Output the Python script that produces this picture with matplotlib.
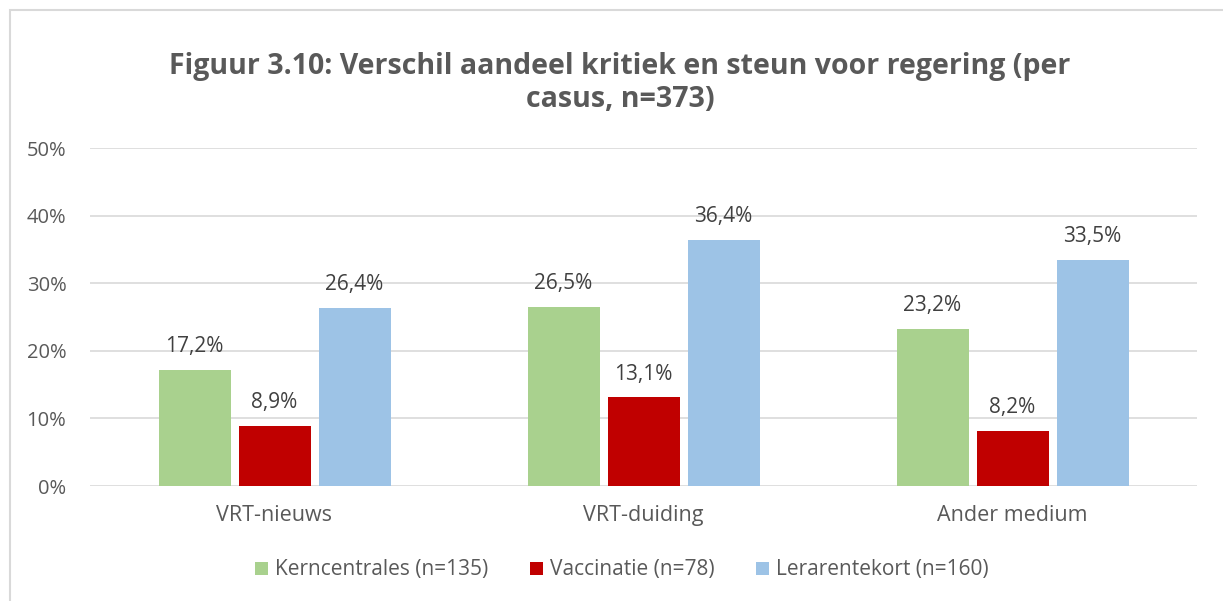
import matplotlib
matplotlib.use("Agg")
import matplotlib.pyplot as plt
import numpy as np
from matplotlib.patches import Rectangle

categories = ["VRT-nieuws", "VRT-duiding", "Ander medium"]
series_names = ["Kerncentrales (n=135)", "Vaccinatie (n=78)", "Lerarentekort (n=160)"]
kerncentrales = [17.2, 26.5, 23.2]
vaccinatie = [8.9, 13.1, 8.2]
lerarentekort = [26.4, 36.4, 33.5]
colors = ["#A9D18E", "#C00000", "#9DC3E6"]
title = "Figuur 3.10: Verschil aandeel kritiek en steun voor regering (per\ncasus, n=373)"

plt.rcParams['font.family'] = ['Open Sans', 'DejaVu Sans']

fig = plt.figure(figsize=(12.23, 6.01), dpi=100)
fig.patches.append(Rectangle((10/1223, -0.1), 1.2, 1 - 10/601 + 0.1, transform=fig.transFigure,
                             fill=False, edgecolor="#D9D9D9", linewidth=1.5))
ax = fig.add_axes([90/1223, 1 - 486/601, 1107/1223, 338/601])

x = np.arange(len(categories)) + 0.5
w = 72/369
off = 80/369
for i, (vals, name, c) in enumerate(zip([kerncentrales, vaccinatie, lerarentekort], series_names, colors)):
    bars = ax.bar(x + (i - 1) * off, vals, width=w, color=c, label=name, zorder=3)
    for b, v in zip(bars, vals):
        ax.text(b.get_x() + b.get_width()/2, v + 3.45, f"{v:.1f}%".replace(".", ","),
                ha="center", va="center", fontsize=15, color="#404040")

ax.set_xlim(0, 3)
ax.set_ylim(0, 50)
ax.set_yticks(np.arange(0, 51, 10))
ax.set_yticklabels([f"{v}%" for v in range(0, 51, 10)], fontsize=14.5, color="#595959")
ax.set_xticks(x)
ax.set_xticklabels(categories, fontsize=15.5, color="#595959")
ax.tick_params(length=0)
ax.tick_params(axis="x", pad=14)
ax.tick_params(axis="y", pad=17)
ax.grid(axis="y", color="#D9D9D9", linewidth=1.2, zorder=0)
for s in ax.spines.values():
    s.set_visible(False)

fig.text(620/1223, 1 - 83/601, title, ha="center", va="center", fontsize=20.5, fontweight="bold",
         color="#595959", linespacing=1.2)

leg = fig.legend(loc="center", bbox_to_anchor=(622/1223, 1 - 570/601), ncol=3, frameon=False,
                 fontsize=15, handlelength=0.6, handleheight=0.6, handletextpad=0.35, columnspacing=2.0,
                 labelcolor="#595959")
fig.savefig("out.png", dpi=100)
